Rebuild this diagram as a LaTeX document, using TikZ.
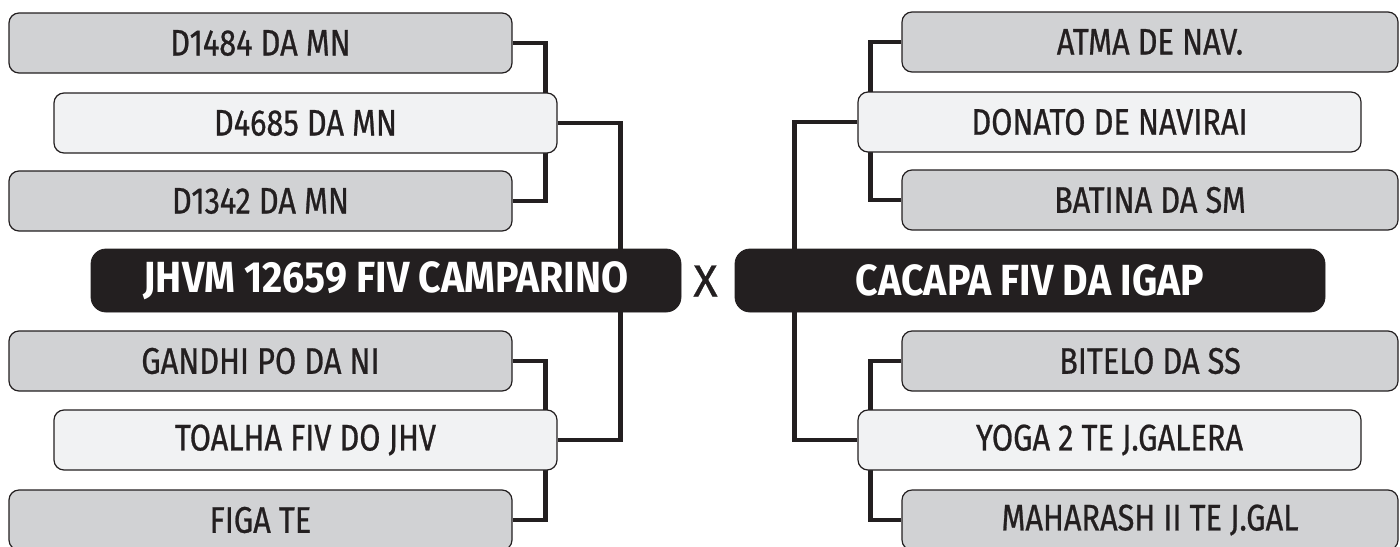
\documentclass[tikz,border=0pt]{standalone}
\usepackage{fontspec}
\setmainfont{Fira Sans}
\newfontfamily\boxfont[FakeStretch=0.83, FakeBold=0.7]{Fira Sans}
\newfontfamily\champfont[FakeStretch=0.9]{Fira Sans}
\newfontfamily\vsfont[FakeBold=0.7]{Fira Sans}
\usepackage{xcolor}
\usetikzlibrary{positioning,backgrounds,calc}
\definecolor{ink}{HTML}{231F20}
\definecolor{seedgray}{HTML}{D1D2D4}
\definecolor{seedlight}{HTML}{F1F2F3}

\begin{document}
\begin{tikzpicture}[x=0.5pt, y=-0.5pt]
\tikzset{el/.style={draw=ink, line width=0.6pt, rectangle, rounded corners=5pt, inner sep=0pt,
  minimum width=251.5pt, minimum height=30pt, text=ink, font=\boxfont\fontsize{18.5}{19}\selectfont},
  gr/.style={el, fill=seedgray},
  lt/.style={el, fill=seedlight},
  gr2/.style={gr, minimum width=248pt},
  champ/.style={draw=ink, fill=ink, rectangle, rounded corners=7.5pt, inner sep=0pt,
  minimum width=295pt, minimum height=31.5pt, text=white, font=\champfont\bfseries\fontsize{21.8}{22}\selectfont},
  link/.style={draw=ink, line width=2.2pt}}

\useasboundingbox (0,0) rectangle (1400,546);

% Left side
\node[gr] (d1484) at (260.5,43) {D1484 DA MN};
\node[lt] (d4685) at (305.5,123) {D4685 DA MN};
\node[gr] (d1342) at (260.5,201) {D1342 DA MN};
\node[champ] (jhvm) at (386,280.5) {JHVM 12659 FIV CAMPARINO};
\node[gr] (gandhi) at (260.5,361) {GANDHI PO DA NI};
\node[lt] (toalha) at (305.5,440) {TOALHA FIV DO JHV};
\node[gr] (figa) at (260.5,520) {FIGA TE};

% Versus
\node[text=ink, font=\vsfont\fontsize{22.5}{23}\selectfont] (vs) at (705.5,281) {X};

% Right side
\node[gr2] (atma) at (1150,42) {ATMA DE NAV.};
\node[lt] (donato) at (1109.5,122) {DONATO DE NAVIRAI};
\node[gr2] (batina) at (1150,200) {BATINA DA SM};
\node[champ] (cacapa) at (1030,280.5) {CACAPA FIV DA IGAP};
\node[gr2] (bitelo) at (1150,361) {BITELO DA SS};
\node[lt] (yoga) at (1109.5,440) {YOGA 2 TE J.GALERA};
\node[gr2] (maharash) at (1150,520) {MAHARASH II TE J.GAL};

% Connections
\begin{scope}[on background layer]
\draw[link] (d1484.east) -- ++(33,0) |- (d1342.east);
\draw[link] (gandhi.east) -- ++(33,0) |- (figa.east);
\draw[link] (d4685.east) -- ++(63,0) |- (toalha.east);

\draw[link] (atma.west) -- ++(-31,0) |- (batina.west);
\draw[link] (bitelo.west) -- ++(-31,0) |- (maharash.west);
\draw[link] (donato.west) -- ++(-63,0) |- (yoga.west);
\end{scope}

\end{tikzpicture}
\end{document}
